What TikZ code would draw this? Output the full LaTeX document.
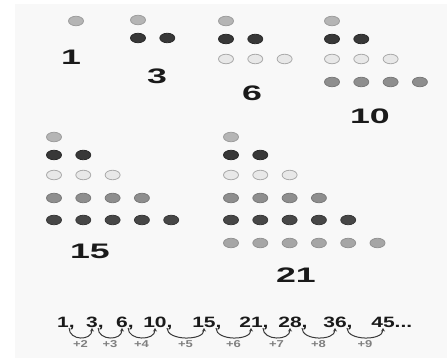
\documentclass[tikz,border=0pt]{standalone}
\usepackage{fontspec}
\setmainfont{Liberation Sans}
\usetikzlibrary{shapes.geometric, arrows.meta}
\definecolor{paper}{HTML}{F8F8F8}
\definecolor{ink}{HTML}{1A1A1A}
\definecolor{hop}{HTML}{3A3A3A}
\tikzset{
  dot/.style={ellipse, minimum width=15pt, minimum height=9.5pt, inner sep=0pt, line width=0.8pt},
  row1/.style={fill={rgb,255:red,181;green,181;blue,181}, draw={rgb,255:red,158;green,158;blue,158}},
  row2/.style={fill={rgb,255:red,56;green,56;blue,56}, draw={rgb,255:red,42;green,42;blue,42}},
  row3/.style={fill={rgb,255:red,232;green,232;blue,232}, draw={rgb,255:red,171;green,171;blue,171}},
  row4/.style={fill={rgb,255:red,142;green,142;blue,142}, draw={rgb,255:red,122;green,122;blue,122}},
  row5/.style={fill={rgb,255:red,71;green,71;blue,71}, draw={rgb,255:red,56;green,56;blue,56}},
  row6/.style={fill={rgb,255:red,166;green,166;blue,166}, draw={rgb,255:red,147;green,147;blue,147}},
  total/.style={font=\bfseries\fontsize{21}{21}\selectfont, text=ink, xscale=1.7, inner sep=0pt},
  seq/.style={font=\bfseries\fontsize{15}{15}\selectfont, text=ink, xscale=1.4, inner sep=0pt, anchor=base},
  inc/.style={font=\bfseries\fontsize{10}{10}\selectfont, text=gray, xscale=1.3, inner sep=0pt},
  hoparr/.style={-{Stealth[length=3.5pt, width=4pt]}, line width=1pt, hop},
}

\begin{document}
\begin{tikzpicture}[x=1pt, y=-1pt]
\useasboundingbox (0,0) rectangle (447,358);
\fill[white] (0,0) rectangle (447,358);
\fill[paper] (15,4) rectangle (447,358);
% triangles of dots
\foreach \x/\y/\n in {76/21/1, 138/20/2, 226/21/3, 332/21/4, 54/137/5, 231/137/6}
  \foreach \r in {1,...,\n} {
    \pgfmathsetmacro\dy{{0,18,38,61,83,106}[\r-1]}
    \foreach \k in {1,...,\r}
      \node[dot, row\r] (d\n-\r-\k) at ({\x+29.3*(\k-1)}, {\y+\dy}) {};
  }
\node[total] (t1) at (71,57) {1};
\node[total] (t3) at (157,76) {3};
\node[total] (t6) at (252,93) {6};
\node[total] (t10) at (370,116) {10};
\node[total] (t15) at (90,251) {15};
\node[total] (t21) at (296,275) {21};
% the sequence and its steps
\node[seq] (s1) at (63,327) {1\rlap{,}};
\node[seq] (s3) at (92,327) {3\rlap{,}};
\node[seq] (s6) at (122,327) {6\rlap{,}};
\node[seq] (s10) at (155,327) {10\rlap{,}};
\node[seq] (s15) at (204,327) {15\rlap{,}};
\node[seq] (s21) at (251,327) {21\rlap{,}};
\node[seq] (s28) at (290,327) {28\rlap{,}};
\node[seq] (s36) at (335,327) {36\rlap{,}};
\node[seq] (s45) at (383,327) {45\rlap{...}};
\foreach \a/\b/\d in {s1/s3/2, s3/s6/3, s6/s10/4, s10/s15/5, s15/s21/6, s21/s28/7, s28/s36/8, s36/s45/9}
  \draw[hoparr] ([yshift=-1pt]\a.base east) .. controls +(0,13) and +(0,13) ..
    node[inc, below=2.5pt] (p\d) {+\d} ([yshift=-1pt]\b.base);
\end{tikzpicture}
\end{document}
